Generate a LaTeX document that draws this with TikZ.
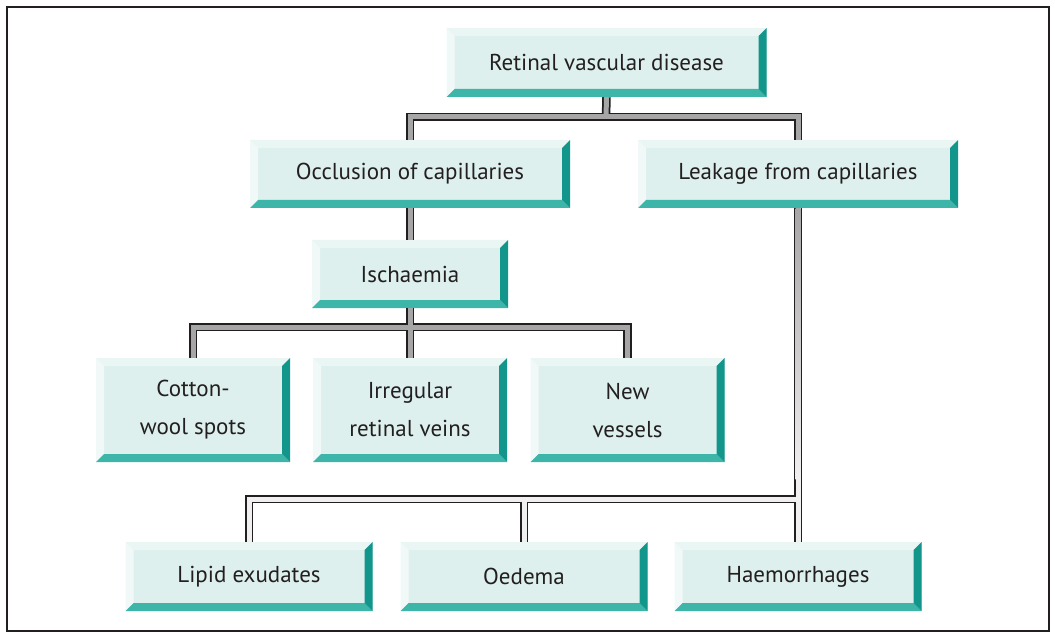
\documentclass[tikz,border=0pt]{standalone}
\usepackage{fontspec}
\setmainfont{PT Sans}

\definecolor{boxface}{HTML}{DDF0ED}
\definecolor{bevright}{HTML}{12968C}
\definecolor{bevbottom}{HTML}{3DB5A8}
\definecolor{bevtop}{HTML}{E9F6F4}
\definecolor{bevleft}{HTML}{F1F9F8}
\definecolor{boxtext}{HTML}{231F20}
\definecolor{pipegray}{HTML}{A6A6A6}
\definecolor{pipelight}{HTML}{F0F0F0}

\tikzset{
  vbox/.style={rectangle, fill=boxface, inner sep=0pt, text=boxtext, align=center,
    font=\fontsize{23}{38}\selectfont,
    path picture={
      \fill[bevtop] (path picture bounding box.north west) -- (path picture bounding box.north east)
        -- ([shift={(-8pt,-8pt)}]path picture bounding box.north east)
        -- ([shift={(8pt,-8pt)}]path picture bounding box.north west) -- cycle;
      \fill[bevleft] (path picture bounding box.north west) -- (path picture bounding box.south west)
        -- ([shift={(8pt,8pt)}]path picture bounding box.south west)
        -- ([shift={(8pt,-8pt)}]path picture bounding box.north west) -- cycle;
      \fill[bevbottom] (path picture bounding box.south west) -- (path picture bounding box.south east)
        -- ([shift={(-8pt,8pt)}]path picture bounding box.south east)
        -- ([shift={(8pt,8pt)}]path picture bounding box.south west) -- cycle;
      \fill[bevright] (path picture bounding box.north east) -- (path picture bounding box.south east)
        -- ([shift={(-8pt,8pt)}]path picture bounding box.south east)
        -- ([shift={(-8pt,-8pt)}]path picture bounding box.north east) -- cycle;
    }},
  wide/.style={vbox, minimum width=320pt, minimum height=68pt},
  tall/.style={vbox, minimum width=194pt, minimum height=104pt},
  low/.style={vbox, minimum width=247pt, minimum height=69pt},
  pipeout/.style={draw=boxtext, line width=8.5pt, line join=miter},
  pipeup/.style={draw=pipegray, line width=5pt, line join=miter},
  pipedown/.style={draw=pipelight, line width=5pt, line join=miter},
}

\begin{document}
\begin{tikzpicture}[x=1pt,y=-1pt]
	% page and frame
	\useasboundingbox (0,0) rectangle (1055,639);
	\draw[boxtext, line width=1.5pt] (7,7) rectangle (1049,631);

	% boxes
	\node[vbox, minimum width=320pt, minimum height=69pt] (top) at (606.5,62.5) {Retinal vascular disease};
	\node[wide] (occl) at (410,174) {Occlusion of capillaries};
	\node[wide] (leak) at (798,174) {Leakage from capillaries};
	\node[vbox, minimum width=196pt, minimum height=68pt] (isch) at (410,274) {Ischaemia};
	\node[tall] (cotton) at (193,410) {Cotton-\\wool spots};
	\node[tall] (irreg) at (410,410) {Irregular\\retinal veins};
	\node[tall] (newv) at (627.5,410) {New\\vessels};
	\node[low] (lipid) at (249,576.5) {Lipid exudates};
	\node[low] (oedema) at (524,576.5) {Oedema};
	\node[low] (haem) at (798,576.5) {Haemorrhages};

	\coordinate (jtop) at (606,117);
	\coordinate (jmid) at (410,327);
	\coordinate (jlow) at (798,499);

	% upper pipes: dark rim first, then grey core
	\foreach \ps in {pipeout,pipeup} {
		\draw[\ps] (top.south) -- (jtop);
		\draw[\ps] (occl.north) |- (jtop) -| (leak.north);
		\draw[\ps] (occl.south) -- (isch.north);
		\draw[\ps] (isch.south) -- (jmid);
		\draw[\ps] (cotton.north) |- (jmid) -| (newv.north);
		\draw[\ps] (jmid) -- (irreg.north);
	}

	% lower pipes
	\foreach \ps in {pipeout,pipedown} {
		\draw[\ps] (leak.south) -- (haem.north);
		\draw[\ps] (lipid.north) |- (jlow);
		\draw[\ps] (jlow -| oedema.north) -- (oedema.north);
	}
	% grey fading down the leakage pipe
	\shade[top color=pipegray, bottom color=pipelight]
		([xshift=-2.5pt]leak.south) rectangle ([xshift=2.5pt,yshift=20pt]jlow);
\end{tikzpicture}
\end{document}
